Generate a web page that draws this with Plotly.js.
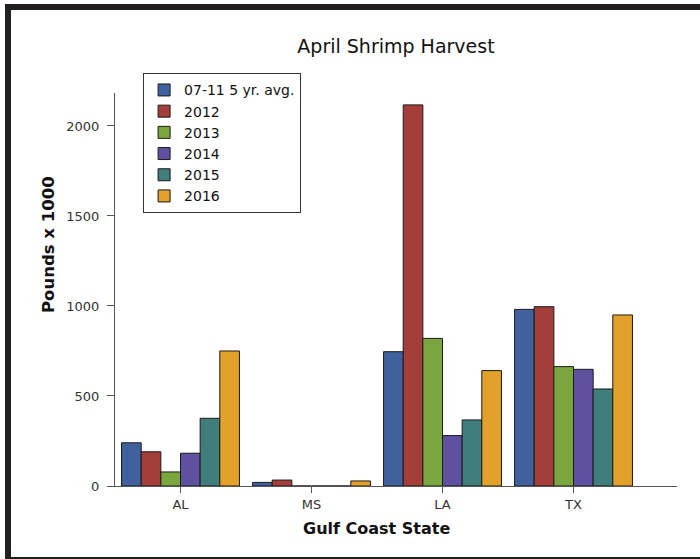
<!DOCTYPE html>
<html>
<head>
<meta charset="utf-8">
<script src="https://cdn.plot.ly/plotly-3.0.1.min.js"></script>
<style>
  html, body { margin: 0; padding: 0; background: #fff; }
  #wrap { position: relative; width: 700px; height: 559px; overflow: hidden; }
  #chart { width: 700px; height: 559px; }
  #frame { position: absolute; left: 5px; top: 4px; width: 720px; height: 547px;
           border-left: 6px solid #231f20; border-top: 6px solid #231f20; border-bottom: 4px solid #231f20;
           pointer-events: none; }
</style>
</head>
<body>
<div id="wrap">
  <div id="chart"></div>
  <div id="frame"></div>
</div>
<script>
const categories = ["AL", "MS", "LA", "TX"];
const seriesNames = ["07-11 5 yr. avg.", "2012", "2013", "2014", "2015", "2016"];
const avg0711 = [240, 20, 746, 981];
const y2012 = [190, 33, 2117, 996];
const y2013 = [78, 0, 820, 663];
const y2014 = [182, 0, 280, 648];
const y2015 = [376, 0, 367, 539];
const y2016 = [750, 28, 641, 950];
const seriesValues = [avg0711, y2012, y2013, y2014, y2015, y2016];
const colors = ["#41619e", "#a33e3b", "#7ba63f", "#5f51a0", "#3f7e7b", "#e3a02b"];
const yTitle = "Pounds x 1000";
const xTitle = "Gulf Coast State";
const yTicks = [0, 500, 1000, 1500, 2000];

const traces = seriesNames.map((name, i) => ({
  type: "bar",
  name: name,
  x: [0, 1, 2, 3],
  y: seriesValues[i],
  marker: { color: colors[i], line: { color: "#1a1a1a", width: 1 } },
  hoverinfo: "y+name"
}));

const FONT = "DejaVu Sans, Verdana, sans-serif";

const layout = {
  width: 700, height: 559,
  margin: { l: 115, r: 23, t: 93, b: 73 },
  paper_bgcolor: "#ffffff", plot_bgcolor: "#ffffff",
  font: { family: FONT, color: "#222" },
  title: { text: "April Shrimp Harvest", x: 0.5, xref: "paper", xanchor: "center",
           y: 1 - 46/559, yanchor: "middle", font: { size: 19, color: "#111" } },
  barmode: "group", bargap: 0.1, bargroupgap: 0,
  showlegend: true,
  legend: { x: 0.05, y: 1.05, xanchor: "left", yanchor: "top",
            bgcolor: "#fff", bordercolor: "#333", borderwidth: 1,
            font: { size: 14, color: "#111" }, tracegroupgap: 0, itemwidth: 30 },
  xaxis: {
    range: [-0.5, 3.79], tickvals: [0, 1, 2, 3], ticktext: categories,
    showgrid: false, zeroline: false, showline: true, linecolor: "#555", linewidth: 1,
    ticks: "outside", ticklen: 6, tickcolor: "#555",
    tickfont: { size: 13, color: "#333" }
  },
  yaxis: {
    range: [0, 2183], tickvals: yTicks,
    showgrid: false, zeroline: false, showline: true, linecolor: "#555", linewidth: 1,
    ticks: "outside", ticklen: 7, tickcolor: "#555", ticklabelstandoff: 5,
    tickfont: { size: 13, color: "#333" }
  },
  annotations: [
    { text: "<b>" + xTitle + "</b>", xref: "paper", yref: "paper",
      x: (376 - 115) / 562, y: (486 - 528) / 393, xanchor: "center", yanchor: "middle",
      showarrow: false, font: { size: 16, color: "#111" } },
    { text: "<b>" + yTitle + "</b>", xref: "paper", yref: "paper", textangle: -90,
      x: (48 - 115) / 562, y: (486 - 245) / 393, xanchor: "center", yanchor: "middle",
      showarrow: false, font: { size: 16.5, color: "#111" } }
  ]
};

Plotly.newPlot("chart", traces, layout, { displayModeBar: false, staticPlot: true });
</script>
</body>
</html>
